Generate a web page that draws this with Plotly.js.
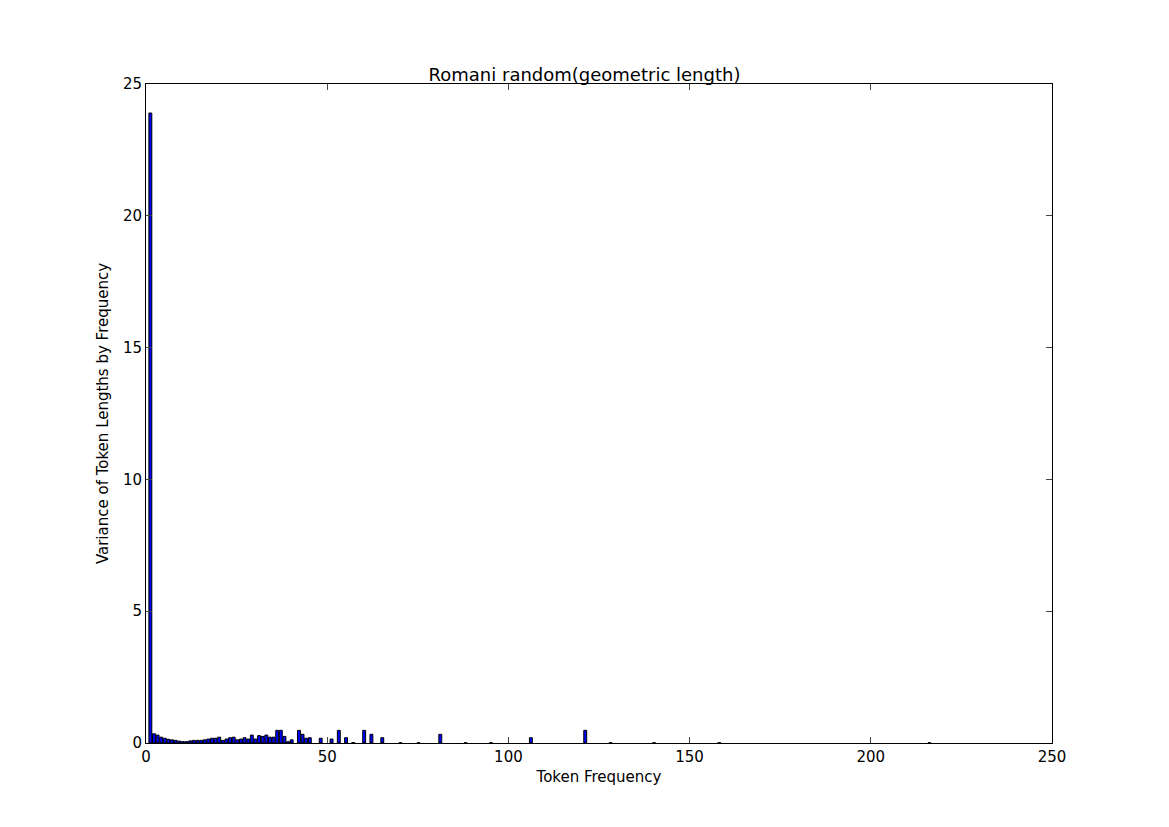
<html><head><script src="https://cdn.plot.ly/plotly-3.0.0.min.js"></script></head><body style="margin:0">
<div id="c" style="width:1169px;height:827px"></div>
<script>
const freq = [1,2,3,4,5,6,7,8,9,10,11,12,13,14,15,16,17,18,19,20,21,22,23,24,25,26,27,28,29,30,31,32,33,34,35,36,37,38,39,40,42,43,44,45,48,51,53,55,57,60,62,65,70,75,81,88,95,106,121,128,140,158,216];
const variance = [23.9,0.35,0.3,0.22,0.18,0.14,0.12,0.1,0.07,0.05,0.05,0.08,0.1,0.1,0.1,0.12,0.15,0.18,0.18,0.22,0.1,0.15,0.2,0.22,0.12,0.15,0.2,0.15,0.3,0.15,0.28,0.25,0.3,0.22,0.22,0.48,0.48,0.25,0.05,0.12,0.48,0.33,0.18,0.2,0.18,0.15,0.48,0.2,0.02,0.48,0.33,0.2,0.01,0.01,0.33,0.01,0.01,0.2,0.48,0.01,0.01,0.01,0.01];
Plotly.newPlot('c',[{type:'bar',x:freq.map(v=>v+0.2),y:variance,width:0.8,marker:{color:'#0000ff',line:{color:'#000',width:1}}}],{
 width:1169,height:827,margin:{l:146,r:117,t:84,b:84},paper_bgcolor:'#fff',plot_bgcolor:'#fff',
 font:{family:'DejaVu Sans',size:15,color:'#000'},showlegend:false,
 title:{text:'Romani random(geometric length)',x:0.5,y:0.917,xanchor:'center',font:{size:18}},
 xaxis:{range:[0,250],dtick:50,showgrid:false,zeroline:false,showline:true,mirror:'allticks',ticks:'inside',ticklen:6,linecolor:'#000',title:{text:'Token Frequency',standoff:6,font:{size:15}}},
 yaxis:{range:[0,25],dtick:5,showgrid:false,zeroline:false,showline:true,mirror:'allticks',ticks:'inside',ticklen:6,linecolor:'#000',title:{text:'Variance of Token Lengths by Frequency',standoff:10,font:{size:15}}}
},{displayModeBar:false});
</script></body></html>
